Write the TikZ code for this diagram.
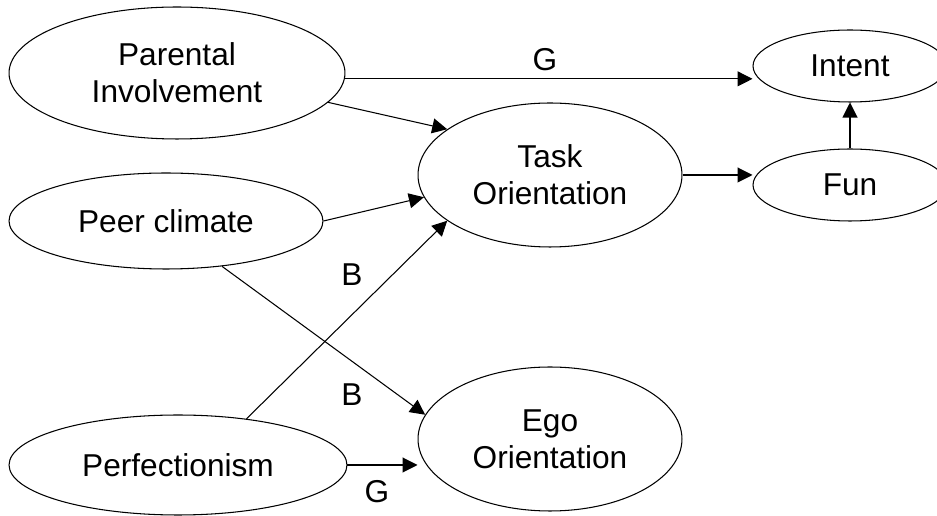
\documentclass[tikz,border=0pt]{standalone}
\usepackage{fontspec}
\setmainfont{Liberation Sans}
\usetikzlibrary{shapes.geometric,arrows.meta}

\begin{document}
\begin{tikzpicture}[x=0.02cm, y=-0.02cm, line width=0.6pt,
    var/.style 2 args = {draw, ellipse, inner sep=0pt, minimum width=#1, minimum height=#2,
      align=center, font=\fontsize{18}{21}\selectfont},
    lbl/.style = {inner sep=0pt, font=\fontsize{18}{21}\selectfont},
    arr/.style = {-{Triangle[length=0.3cm, width=0.3cm]}}]
  \clip (0,0) rectangle (937,516);
  % variables
  \node[var={6.72cm}{2.64cm}] (par) at (177,73) {Parental\\Involvement};
  \node[var={6.28cm}{1.92cm}] (peer) at (166,221) {Peer climate};
  \node[var={6.76cm}{2.0cm}] (perf) at (178,465) {Perfectionism};
  \node[var={5.28cm}{2.88cm}] (task) at (550,175) {Task\\Orientation};
  \node[var={5.28cm}{2.88cm}] (ego) at (550,439) {Ego\\Orientation};
  \node[var={3.88cm}{1.44cm}] (int) at (850,66) {Intent};
  \node[var={3.88cm}{1.44cm}] (fun) at (850,185) {Fun};
  % paths
  \draw[arr] (par.-2) -- (par.-2 -| int.west);
  \draw[arr] (par.-11.6) -- (task.156);
  \draw[arr] (peer.east) -- (task.-170.6);
  \draw[arr] (peer.-39.8) -- (ego.169);
  \draw[arr] (perf.34.8) -- (task.204);
  \draw[arr] (perf.east) -- (perf.east -| ego.west);
  \draw[arr] (task.east) -- (task.east -| fun.west);
  \draw[arr] (fun.north) -- (int.south);
  % labels
  \node[lbl] (g1) at (545,60) {G};
  \node[lbl] (b1) at (352,275) {B};
  \node[lbl] (b2) at (352,395) {B};
  \node[lbl] (g2) at (377,492) {G};
\end{tikzpicture}
\end{document}
